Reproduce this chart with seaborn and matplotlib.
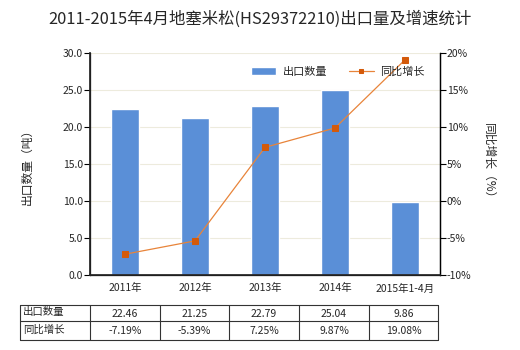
import matplotlib
matplotlib.use("Agg")
import matplotlib.pyplot as plt
import seaborn as sns
import pandas as pd
import numpy as np

categories = ["2011年", "2012年", "2013年", "2014年", "2015年1-4月"]
export_qty = [22.46, 21.25, 22.79, 25.04, 9.86]
growth_pct = [-7.19, -5.39, 7.25, 9.87, 19.08]
qty_labels = ["22.46", "21.25", "22.79", "25.04", "9.86"]
growth_labels = ["-7.19%", "-5.39%", "7.25%", "9.87%", "19.08%"]
left_ticks = [0, 5, 10, 15, 20, 25, 30]
right_ticks = [-10, -5, 0, 5, 10, 15, 20]

sns.set_theme(style="white")
plt.rcParams['font.family'] = ['Noto Sans CJK SC', 'DejaVu Sans']
plt.rcParams['axes.unicode_minus'] = False

df = pd.DataFrame({"cat": categories, "qty": export_qty, "g": growth_pct})

fig = plt.figure(figsize=(5.2, 3.5), dpi=100)
ax = fig.add_axes([90/520, 1-275/350, 350/520, 222/350])

bar_color = "#5A8FD7"
line_color = "#E8843A"
marker_color = "#D45A0A"

sns.barplot(data=df, x="cat", y="qty", color=bar_color, width=0.4, ax=ax,
            saturation=1, label="出口数量")
ax.set_ylim(0, 30)
ax.set_yticks(left_ticks)
ax.set_yticklabels([f"{t:.1f}" for t in left_ticks], fontsize=7.5)
ax.set_xlim(-0.5, 4.5)
ax.set_xlabel("")
ax.set_ylabel("出口数量（吨）", fontsize=8.5, labelpad=21)
ax.tick_params(axis="x", labelsize=7.5, length=0, pad=6)
ax.tick_params(axis="y", length=4, width=0.8, color="black", pad=1, direction="out", left=True)
for t in left_ticks[1:]:
    ax.axhline(t, color="#EDEBDD", lw=0.8, zorder=0)
ax.spines["top"].set_visible(False)
for s in ["left", "bottom", "right"]:
    ax.spines[s].set_color("black")
    ax.spines[s].set_linewidth(0.9)

ax2 = ax.twinx()
sns.lineplot(x=np.arange(len(categories)), y=growth_pct, ax=ax2, color=line_color,
             lw=0.9, marker="s", markersize=4, markerfacecolor=marker_color,
             markeredgecolor=marker_color, label="同比增长", legend=False)
ax2.set_ylim(-10, 20)
ax2.set_yticks(right_ticks)
ax2.set_yticklabels([f"{t}%" for t in right_ticks], fontsize=7.5)
ax2.tick_params(axis="y", length=4, width=0.8, color="black", pad=1, direction="out", right=True)
ax2.set_ylabel("同比增长（%）", fontsize=8.5, rotation=-90, labelpad=17)
ax2.spines["top"].set_visible(False)
ax2.spines["right"].set_color("black")
ax2.spines["right"].set_linewidth(0.9)
ax2.grid(False)

h1, l1 = ax.get_legend_handles_labels()
h2, l2 = ax2.get_legend_handles_labels()
if ax.get_legend():
    ax.get_legend().remove()
ax2.legend(h1 + h2, l1 + l2, loc="upper right", bbox_to_anchor=(0.985, 0.985), ncol=2,
           frameon=False, fontsize=8, handlelength=2.2, columnspacing=2.0,
           handletextpad=0.6, markerscale=0.8)

fig.suptitle("2011-2015年4月地塞米松(HS29372210)出口量及增速统计", fontsize=11.8, y=0.97)

# table
x_edges = [20, 90, 160, 229, 299, 369, 438]
y_edges = [305, 321, 340]
W, H = 520, 350
for x in x_edges:
    fig.add_artist(plt.Line2D([x/W, x/W], [1-y_edges[0]/H, 1-y_edges[-1]/H], color="#333333", lw=0.8))
for y in y_edges:
    fig.add_artist(plt.Line2D([x_edges[0]/W, x_edges[-1]/W], [1-y/H, 1-y/H], color="#333333", lw=0.8))
rows = [("出口数量", qty_labels), ("同比增长", growth_labels)]
for r, (lab, vals) in enumerate(rows):
    yc = (y_edges[r] + y_edges[r+1]) / 2
    fig.text(23/W, 1-(yc-1)/H, lab, fontsize=7.5, ha="left", va="center")
    for i, v in enumerate(vals):
        xc = (x_edges[i+1] + x_edges[i+2]) / 2
        fig.text(xc/W, 1-(yc+1)/H, v, fontsize=7.5, ha="center", va="center")

fig.savefig("out.png", dpi=100)
